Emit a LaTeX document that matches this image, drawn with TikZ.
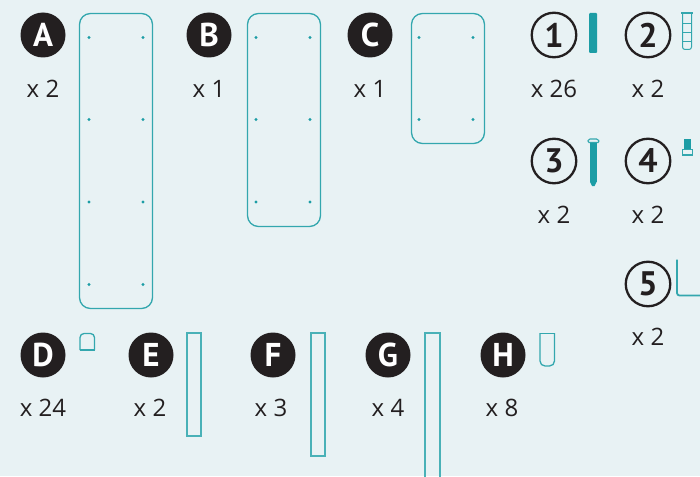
\documentclass[tikz,border=0pt]{standalone}
\usepackage{fontspec}
\setmainfont{Open Sans}
\newfontfamily\badgefont{PT Sans}
\definecolor{bgc}{HTML}{E8F2F4}
\definecolor{teal1}{HTML}{1C9DA5}
\definecolor{inkc}{HTML}{231F20}
\tikzset{
  part/.style={draw=teal1!90!white,line width=1.3pt,fill=none},
  barpart/.style={draw=teal1!80!white,line width=1.5pt,fill=none},
  solidpart/.style={fill=teal1,draw=none},
  hole/.style={circle,fill=teal1,inner sep=0pt,minimum size=3.4pt},
  lettered/.style={circle,fill=inkc,text=white,inner sep=0pt,minimum size=45pt,font=\fontsize{33}{33}\selectfont\badgefont\bfseries},
  numbered/.style={circle,draw=inkc,line width=2.3pt,fill=none,text=inkc,inner sep=0pt,minimum size=44.5pt,font=\fontsize{34}{34}\selectfont\badgefont\bfseries},
  qty/.style={text=inkc,inner sep=0pt,font=\fontsize{24}{24}\selectfont}
}
\begin{document}
\begin{tikzpicture}[x=1pt,y=-1pt]
\useasboundingbox[fill=bgc] (0,0) rectangle (700,476);
\clip (0,0) rectangle (700,476);
% badges
\foreach \n/\t/\x/\y in {A/A/43/35,B/B/209/35,C/C/370/35,D/D/43/355,E/E/151/355,F/F/273/355,G/G/388/355,H/H/503/355}
  \node[lettered] (\n) at (\x,\y) {\t};
\foreach \n/\x/\y in {1/554/35,2/648/35,3/554/161,4/648/161,5/648/284}
  \node[numbered] (n\n) at (\x,\y) {\n};
% quantities
\foreach \n/\t/\x/\y in {qa/x 2/43/88.5,qb/x 1/209/88.5,qc/x 1/370/88.5,q1/x 26/554/88.5,q2/x 2/648/88.5,q3/x 2/554/214.5,q4/x 2/648/214.5,q5/x 2/648/336.5,qd/x 24/43/407.5,qe/x 2/150/407.5,qf/x 3/271/407.5,qg/x 4/388/407.5,qh/x 8/502/407.5}
  \node[qty] (\n) at (\x,\y) {\t};
% panels
\draw[part,rounded corners=11pt] (79.5,13.5) rectangle (152.5,308.5);
\draw[part,rounded corners=11pt] (247.5,13.5) rectangle (320.5,226.5);
\draw[part,rounded corners=11pt] (411.5,13.5) rectangle (484.5,143.5);
\foreach \x in {89,143} \foreach \y in {37.5,119.5,202,284.5} \node[hole] at (\x,\y) {};
\foreach \x in {256,310} \foreach \y in {37.5,119.5,202} \node[hole] at (\x,\y) {};
\foreach \x in {419,473} \foreach \y in {37.5,119.5} \node[hole] at (\x,\y) {};
% part 1 dowel
\fill[solidpart,rounded corners=1pt] (589,13) rectangle (597,53);
% part 2 anchor
\draw[part,line width=1pt,rounded corners=2.5pt] (682.5,13) -- (682.5,49.5) -- (691.5,49.5) -- (691.5,13);
\draw[part,line width=1.6pt] (681,13) -- (693,13);
\draw[part,line width=.6pt] (682,23) -- (692,23) (682,32) -- (692,32) (682,41) -- (692,41);
% part 3 screw
\draw[part,line width=1.1pt,rounded corners=1.5pt] (587.5,142.5) -- (588.5,139) -- (598,139) -- (599.5,142.5) -- cycle;
\fill[solidpart] (590,143) rectangle (596.5,182);
\fill[solidpart] (590,182) -- (596.5,182) -- (594.5,186) -- (592,186) -- cycle;
% part 4 bolt
\fill[solidpart] (684,139) rectangle (691,149);
\draw[part,line width=1.2pt] (682.5,149.5) rectangle (692.5,155);
% part 5 hex key
\draw[part,line width=1.8pt,rounded corners=2.5pt] (677,259.5) -- (677,295.5) -- (700.5,295.5);
% part D
\draw[part,rounded corners=4pt] (80,350) -- (80,333.5) -- (94.5,333.5) -- (94.5,350);
\draw[part] (79.5,350) -- (95,350);
% bars
\draw[barpart] (187,333.2) -- (201,333.2) -- (201,435.8) -- (187,435.8) -- cycle;
\draw[barpart] (311,333.2) -- (325,333.2) -- (325,455.8) -- (311,455.8) -- cycle;
\draw[barpart] (425,333.2) -- (440,333.2) -- (440,480) -- (425,480) -- cycle;
% part H
\draw[part,rounded corners=5pt] (540,333) -- (540,366) -- (554.5,366) -- (554.5,333);
\draw[part] (539.5,333.5) -- (555,333.5);
\end{tikzpicture}
\end{document}
